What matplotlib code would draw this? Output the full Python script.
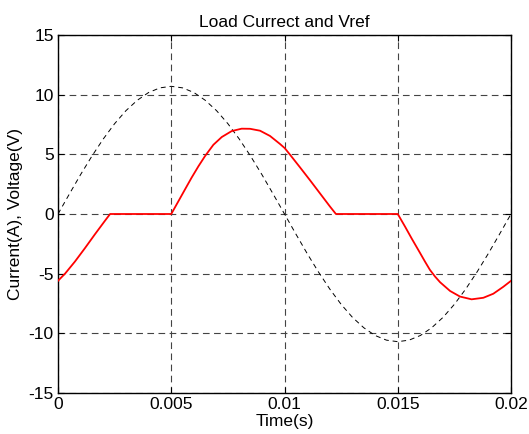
import matplotlib
matplotlib.use("Agg")
import matplotlib.pyplot as plt

# Reference voltage (dashed), read at 0.5 ms steps
t_v = [0.0000, 0.0005, 0.0010, 0.0015, 0.0020, 0.0025, 0.0030, 0.0035, 0.0040, 0.0045,
       0.0050, 0.0055, 0.0060, 0.0065, 0.0070, 0.0075, 0.0080, 0.0085, 0.0090, 0.0095,
       0.0100, 0.0105, 0.0110, 0.0115, 0.0120, 0.0125, 0.0130, 0.0135, 0.0140, 0.0145,
       0.0150, 0.0155, 0.0160, 0.0165, 0.0170, 0.0175, 0.0180, 0.0185, 0.0190, 0.0195,
       0.0200]
v_ref = [0.00, 1.67, 3.31, 4.86, 6.29, 7.57, 8.66, 9.53, 10.18, 10.57,
         10.70, 10.57, 10.18, 9.53, 8.66, 7.57, 6.29, 4.86, 3.31, 1.67,
         0.00, -1.67, -3.31, -4.86, -6.29, -7.57, -8.66, -9.53, -10.18, -10.57,
         -10.70, -10.57, -10.18, -9.53, -8.66, -7.57, -6.29, -4.86, -3.31, -1.67,
         0.00]

# Load current (red)
t_i = [0.00000, 0.00031, 0.00075, 0.00119, 0.00163, 0.00208, 0.00230,
       0.00500,
       0.00531, 0.00561, 0.00590, 0.00620, 0.00649, 0.00686, 0.00723, 0.00767, 0.00811,
       0.00848, 0.00892, 0.00936, 0.00980, 0.01001, 0.01024, 0.01068, 0.01113, 0.01157,
       0.01201, 0.01227,
       0.01500,
       0.01532, 0.01562, 0.01598, 0.01620, 0.01642, 0.01665, 0.01687, 0.01731, 0.01775,
       0.01826, 0.01878, 0.01922, 0.01966, 0.02000]
i_load = [-5.60, -5.00, -3.98, -2.86, -1.70, -0.55, 0.00,
          0.00,
          1.05, 2.07, 3.05, 4.00, 4.85, 5.80, 6.45, 6.95, 7.15,
          7.14, 6.98, 6.54, 5.87, 5.52, 4.98, 3.92, 2.82, 1.72,
          0.62, 0.00,
          0.00,
          -1.05, -2.07, -3.25, -3.98, -4.68, -5.25, -5.72, -6.45, -6.92,
          -7.15, -7.02, -6.68, -6.10, -5.60]

x_ticks = [0, 0.005, 0.01, 0.015, 0.02]
x_ticklabels = ["0", "0.005", "0.01", "0.015", "0.02"]
y_ticks = [-15, -10, -5, 0, 5, 10, 15]
y_ticklabels = ["-15", "-10", "-5", "0", "5", "10", "15"]

plt.rcParams['font.family'] = ['Liberation Sans', 'DejaVu Sans']

fig = plt.figure(figsize=(5.29, 4.34), dpi=100)
ax = fig.add_axes([58/529, 1-393/434, (511-58)/529, (393-35)/434])

ax.plot(t_v, v_ref, color='black', lw=0.7, linestyle=(0, (5, 4)), zorder=3)
ax.plot(t_i, i_load, color='#ff0000', lw=1.3, zorder=4)

ax.set_xlim(0, 0.02)
ax.set_ylim(-15, 15)
ax.set_xticks(x_ticks)
ax.set_xticklabels(x_ticklabels)
ax.set_yticks(y_ticks)
ax.set_yticklabels(y_ticklabels)

ax.grid(True, color='#444444', lw=0.8, linestyle=(0, (6, 4)), zorder=1)
ax.set_axisbelow(True)

ax.tick_params(direction='in', length=4, width=0.8, top=True, right=True,
               labelsize=12.5, pad=3, colors='black')
for s in ax.spines.values():
    s.set_linewidth(1.0)
    s.set_color('black')

ax.set_title("Load Currect and Vref", fontsize=12.5, pad=6)
ax.set_xlabel("Time(s)", fontsize=12.5, labelpad=1)
ax.set_ylabel("Current(A), Voltage(V)", fontsize=12.5, labelpad=4)

fig.savefig("out.png", dpi=100)
